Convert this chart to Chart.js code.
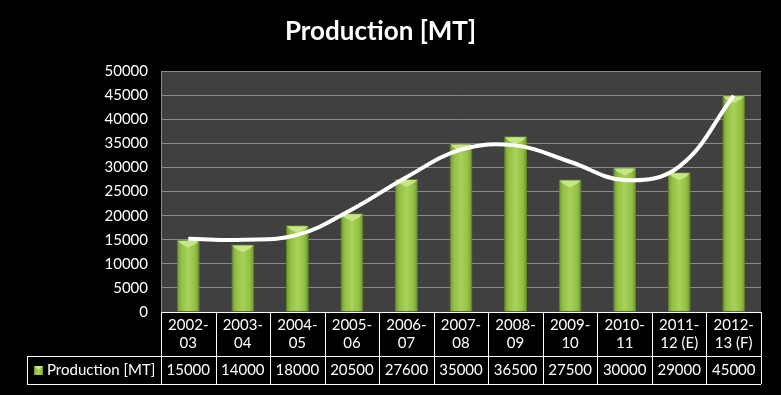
<!DOCTYPE html>
<html>
<head>
<meta charset="utf-8">
<script src="https://cdn.jsdelivr.net/npm/chart.js@4/dist/chart.umd.min.js"></script>
<style>
  html, body { margin: 0; padding: 0; background: #000; }
  #wrap { width: 781px; height: 395px; }
</style>
</head>
<body>
<div id="wrap"><canvas id="chart_production"></canvas></div>
<script>
// production.js

const categories = [ '2002-03', '2003-04', '2004-05', '2005-06', '2006-07', '2007-08',
  '2008-09', '2009-10', '2010-11', '2011-12 (E)', '2012-13 (F)' ];
const productionValues = [ 15000, 14000, 18000, 20500, 27600, 35000, 36500, 27500, 30000, 29000, 45000 ];
// white trend curve at each category
const trendValues = [ 15200, 15000, 16000, 21300, 28000, 33700, 34600, 31200, 27400, 30200, 44900 ];
const yTicks = [ 0, 50000, 5000 ]; // min, max, step
const seriesName = 'Production [MT]';

const FONT = 'Lato';
const BAR_FRACTION = 0.42;

function split_label( label_in ) {
  const i = label_in.indexOf( '-' );
  return [ label_in.slice( 0, i + 1 ), label_in.slice( i + 1 ) ];
}

function green_gradient( ctx, x0, x1 ) {
  const g = ctx.createLinearGradient( x0, 0, x1, 0 );
  g.addColorStop( 0, '#6e9430' );
  g.addColorStop( 0.2, '#94c046' );
  g.addColorStop( 0.5, '#a8d259' );
  g.addColorStop( 0.8, '#94c046' );
  g.addColorStop( 1, '#6e9430' );
  return g;
}

function get_bar_color( context ) {
  const chart = context.chart;
  const xs = chart.scales.x;
  if ( !xs || !chart.chartArea ) return '#9cc84c';
  const cx = xs.getPixelForValue( context.dataIndex );
  const half = ( xs.width / categories.length ) * BAR_FRACTION / 2;
  return green_gradient( chart.ctx, cx - half, cx + half );
}

const plot_background = {
  id: 'plot_background',
  beforeDraw( chart ) {
    const ctx = chart.ctx, a = chart.chartArea;
    ctx.save();
    ctx.fillStyle = '#000';
    ctx.fillRect( 0, 0, chart.width, chart.height );
    ctx.fillStyle = '#404040';
    ctx.fillRect( a.left, a.top, a.right - a.left, a.bottom - a.top );
    ctx.restore();
  }
};

// lighter chevron on the top of each bar
const bar_bevel = {
  id: 'bar_bevel',
  afterDatasetDraw( chart, args ) {
    if ( args.index !== 1 ) return;
    const ctx = chart.ctx;
    ctx.save();
    args.meta.data.forEach( bar => {
      const l = bar.x - bar.width / 2, r = bar.x + bar.width / 2, t = bar.y;
      ctx.fillStyle = 'rgba(205, 235, 140, 0.85)';
      ctx.beginPath();
      ctx.moveTo( l + 1, t + 1 );
      ctx.lineTo( r - 1, t + 1 );
      ctx.lineTo( r - 4, t + 4 );
      ctx.lineTo( bar.x, t + 8 );
      ctx.lineTo( l + 4, t + 4 );
      ctx.closePath();
      ctx.fill();
    } );
    ctx.restore();
  }
};

const data_table = {
  id: 'data_table',
  afterDraw( chart ) {
    const ctx = chart.ctx, a = chart.chartArea, xs = chart.scales.x;
    const colW = ( a.right - a.left ) / categories.length;
    const px = v => Math.round( v ) + 0.5;
    const top = a.bottom, mid = top + 44, bot = mid + 28;
    const legL = 27;

    ctx.save();
    ctx.strokeStyle = '#fff';
    ctx.lineWidth = 1;
    ctx.beginPath();
    ctx.moveTo( a.left, px( top ) ); ctx.lineTo( a.right, px( top ) );
    ctx.moveTo( legL, px( mid ) ); ctx.lineTo( a.right, px( mid ) );
    ctx.moveTo( legL, px( bot ) ); ctx.lineTo( a.right, px( bot ) );
    ctx.moveTo( px( legL ), mid ); ctx.lineTo( px( legL ), bot );
    for ( let i = 0; i <= categories.length; i++ ) {
      const x = px( a.left + i * colW );
      ctx.moveTo( x, top ); ctx.lineTo( x, bot );
    }
    ctx.stroke();

    ctx.fillStyle = '#fff';
    ctx.font = '15px ' + FONT;
    ctx.textAlign = 'center';
    ctx.textBaseline = 'middle';
    categories.forEach( ( c, i ) => {
      const cx = xs.getPixelForValue( i );
      const lines = split_label( c );
      ctx.fillText( lines[ 0 ], cx, top + 13 );
      ctx.fillText( lines[ 1 ], cx, top + 31 );
      ctx.fillText( String( productionValues[ i ] ), cx, mid + 14 );
    } );

    // legend key
    const ky = mid + 10;
    ctx.fillStyle = green_gradient( ctx, 34, 43 );
    ctx.fillRect( 34, ky, 9, 9 );
    ctx.fillStyle = 'rgba(205, 235, 140, 0.9)';
    ctx.beginPath();
    ctx.moveTo( 34, ky ); ctx.lineTo( 43, ky ); ctx.lineTo( 38.5, ky + 4 );
    ctx.closePath(); ctx.fill();
    ctx.fillStyle = '#fff';
    ctx.textAlign = 'left';
    ctx.fillText( seriesName, 47, mid + 14 );
    ctx.restore();
  }
};

function create_chart( chart_id ) {
  const ctx = document.getElementById( chart_id ).getContext( '2d' );
  return new Chart( ctx, {
    data: {
      labels: categories,
      datasets: [ {
        type: 'line',
        label: 'trend',
        data: trendValues,
        borderColor: '#ffffff',
        borderWidth: 4,
        pointRadius: 0,
        tension: 0.4,
        fill: false,
        order: 0
      }, {
        type: 'bar',
        label: seriesName,
        data: productionValues,
        backgroundColor: get_bar_color,
        borderColor: '#5f8327',
        borderWidth: 1,
        barPercentage: BAR_FRACTION,
        categoryPercentage: 1,
        order: 1
      } ]
    },
    options: {
      responsive: true,
      maintainAspectRatio: false,
      animation: false,
      layout: { padding: { left: 0, right: 20, top: 0, bottom: 83 } },
      plugins: {
        legend: { display: false },
        tooltip: { enabled: false },
        title: {
          display: true,
          text: seriesName,
          color: '#ffffff',
          font: { family: FONT, size: 26, weight: 'bold' },
          padding: { top: 16, bottom: 24 }
        }
      },
      scales: {
        x: {
          offset: true,
          grid: { display: false },
          border: { display: false },
          ticks: { display: false },
          afterFit: scale => { scale.height = 0; }
        },
        y: {
          min: yTicks[ 0 ],
          max: yTicks[ 1 ],
          ticks: {
            stepSize: yTicks[ 2 ],
            color: '#ffffff',
            padding: 13,
            font: { family: FONT, size: 15 },
            callback: v => String( v )
          },
          grid: { color: '#8a8a8a', drawTicks: false },
          border: { display: true, color: '#8a8a8a' },
          afterFit: scale => { scale.width = 161; }
        }
      }
    },
    plugins: [ plot_background, bar_bevel, data_table ]
  } );
}

document.addEventListener( 'DOMContentLoaded', function () {
  create_chart( 'chart_production' );
} );
</script>
</body>
</html>
